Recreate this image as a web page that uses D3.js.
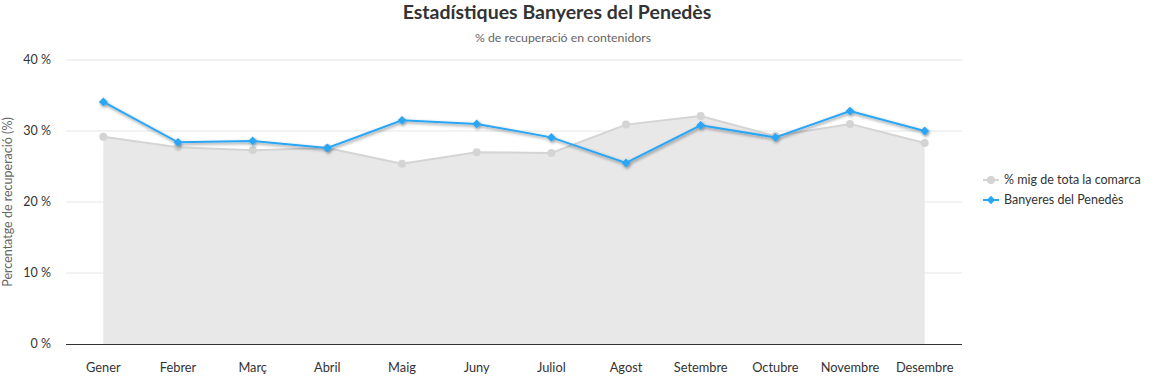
<html>
<script src="https://d3js.org/d3.v7.min.js"></script>
<body style="margin:0"></body>
<script>
const width = 1156;
const height = 377;

const months = ['Gener','Febrer','Març','Abril','Maig','Juny','Juliol','Agost','Setembre','Octubre','Novembre','Desembre'];
const comarca = [29.2, 27.7, 27.3, 27.6, 25.4, 27.0, 26.9, 30.9, 32.1, 29.3, 31.0, 28.3];
const banyeres = [34.1, 28.4, 28.6, 27.6, 31.5, 31.0, 29.1, 25.5, 30.8, 29.1, 32.8, 30.0];
const yTicks = [0, 10, 20, 30, 40];

const font = 'Lato, "Noto Sans", sans-serif';
const margin = {left: 66, right: 194, top: 60, bottom: 33};

const svg = d3.select('body').append('svg')
    .attr('width', width)
    .attr('height', height)
    .style('font-family', font);

const defs = svg.append('defs');
const f = defs.append('filter').attr('id','shadow')
    .attr('x','-5%').attr('y','-20%').attr('width','110%').attr('height','160%');
f.append('feDropShadow')
    .attr('dx',1).attr('dy',1.5).attr('stdDeviation',1.5)
    .attr('flood-color','#000').attr('flood-opacity',0.45);

const x = d3.scaleBand()
    .domain(months)
    .range([margin.left, width - margin.right]);
const y = d3.scaleLinear()
    .domain([0, 40])
    .range([height - margin.bottom, margin.top]);
const cx = d => x(d) + x.bandwidth()/2;

// title
svg.append('text')
    .attr('x', 557).attr('y', 19)
    .attr('text-anchor','middle')
    .attr('font-size', 19.5).attr('font-weight','bold')
    .attr('fill','#333')
    .text('Estadístiques Banyeres del Penedès');
svg.append('text')
    .attr('x', 563).attr('y', 42)
    .attr('text-anchor','middle')
    .attr('font-size', 12.3)
    .attr('fill','#666')
    .text('% de recuperació en contenidors');

// grid
svg.append('g')
    .selectAll('line')
    .data(yTicks.slice(1))
    .enter().append('line')
        .attr('x1', margin.left).attr('x2', width - margin.right)
        .attr('y1', d=>y(d)).attr('y2', d=>y(d))
        .attr('stroke','#e6e6e6');

// y labels
svg.append('g')
    .selectAll('text')
    .data(yTicks)
    .enter().append('text')
        .attr('x', 51).attr('y', d=>y(d)+4)
        .attr('text-anchor','end')
        .attr('font-size', 12.5).attr('fill','#333')
        .text(d=>d + ' %');

svg.append('text')
    .attr('transform', `translate(12,${y(20)}) rotate(-90)`)
    .attr('text-anchor','middle')
    .attr('font-size', 12.5).attr('fill','#666')
    .text('Percentatge de recuperació (%)');

// area
const area = d3.area()
    .x((d,i)=>cx(months[i]))
    .y0(y(0))
    .y1(d=>y(d));
svg.append('path')
    .datum(comarca)
    .attr('d', area)
    .attr('fill','#e8e8e8');

const line = d3.line()
    .x((d,i)=>cx(months[i]))
    .y(d=>y(d));
svg.append('path')
    .datum(comarca)
    .attr('d', line)
    .attr('fill','none')
    .attr('stroke','#d4d4d4')
    .attr('stroke-width',2);
svg.append('g')
    .selectAll('circle')
    .data(comarca)
    .enter().append('circle')
        .attr('cx',(d,i)=>cx(months[i]))
        .attr('cy',d=>y(d))
        .attr('r',4)
        .attr('fill','#d4d4d4');

// x axis line
svg.append('line')
    .attr('x1', margin.left).attr('x2', width - margin.right)
    .attr('y1', y(0)+0.5).attr('y2', y(0)+0.5)
    .attr('stroke','#333');

svg.append('g')
    .selectAll('text')
    .data(months)
    .enter().append('text')
        .attr('x', d=>cx(d)).attr('y', 372)
        .attr('text-anchor','middle')
        .attr('font-size', 12.8).attr('fill','#333')
        .text(d=>d);

// blue series
const blue = '#2ba6f4';
const g = svg.append('g').attr('filter','url(#shadow)');
g.append('path')
    .datum(banyeres)
    .attr('d', line)
    .attr('fill','none')
    .attr('stroke', blue)
    .attr('stroke-width',2);
const diamond = d3.symbol().type(d3.symbolDiamond2).size(50);
g.selectAll('.pt')
    .data(banyeres)
    .enter().append('path')
        .attr('class','pt')
        .attr('transform',(d,i)=>`translate(${cx(months[i])},${y(d)})`)
        .attr('d', diamond)
        .attr('fill', blue);

// legend
const legend = [
    {name: '% mig de tota la comarca', color: '#d4d4d4', sym: 'circle'},
    {name: 'Banyeres del Penedès', color: blue, sym: 'diamond'}
];
const lg = svg.append('g')
    .selectAll('g')
    .data(legend)
    .enter().append('g')
        .attr('transform',(d,i)=>`translate(991,${180 + i*20})`);
lg.append('line')
    .attr('x1',-8).attr('x2',8)
    .attr('stroke',d=>d.color).attr('stroke-width',2);
lg.append('path')
    .attr('d', d=>d3.symbol().type(d.sym==='circle'? d3.symbolCircle : d3.symbolDiamond2).size(d.sym==='circle'?50:45)())
    .attr('fill', d=>d.color);
lg.append('text')
    .attr('x', 13).attr('y', 4)
    .attr('font-size', 12.5).attr('fill','#333')
    .text(d=>d.name);
</script>
</html>
